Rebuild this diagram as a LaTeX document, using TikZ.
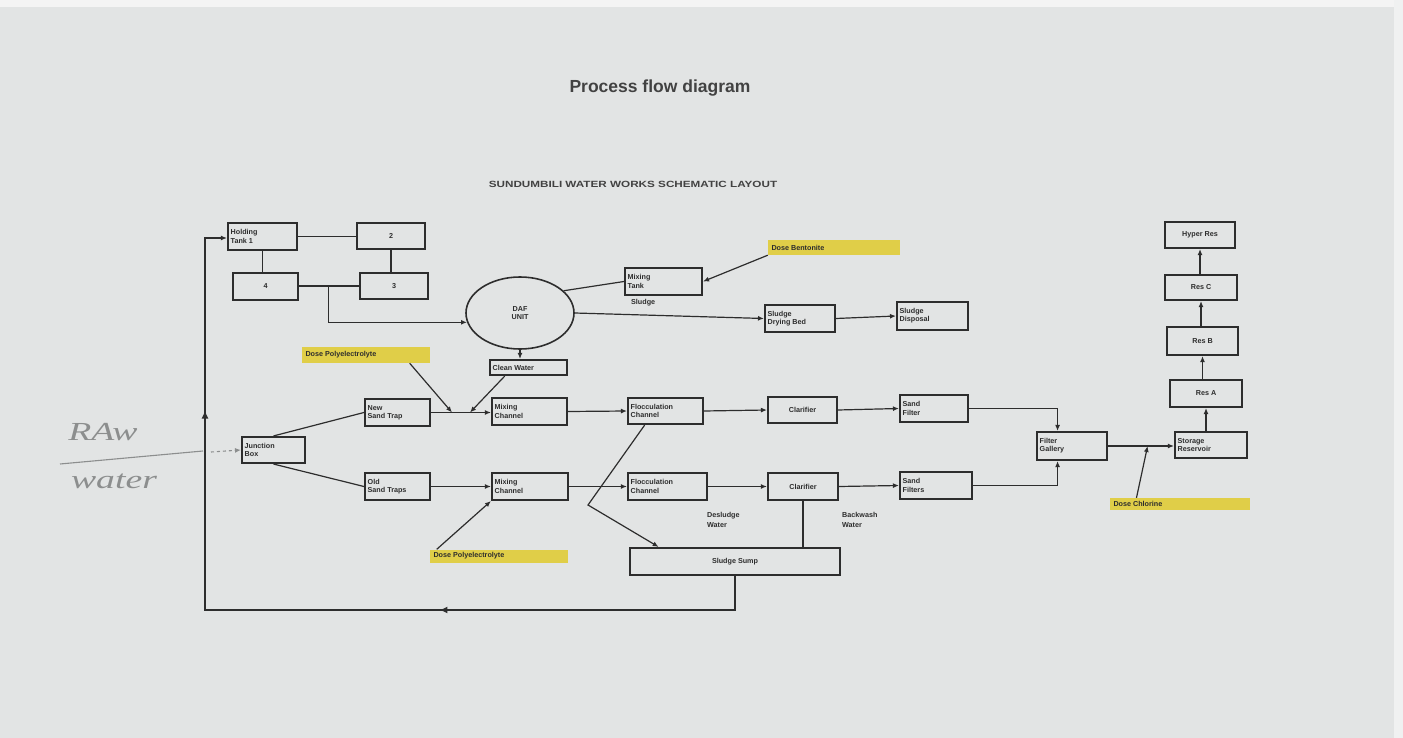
\documentclass[tikz,border=0pt]{standalone}
\usepackage{fontspec}
\setmainfont{Liberation Sans}
\newfontfamily\handfont{Liberation Serif}
\usetikzlibrary{arrows.meta,calc,shapes.geometric,decorations.markings}
\definecolor{paper}{RGB}{226,228,228}
\definecolor{ink}{RGB}{45,45,45}
\definecolor{hilite}{RGB}{224,206,72}
\definecolor{pencil}{RGB}{140,142,142}

\begin{document}
\begin{tikzpicture}[x=1pt,y=-1pt,
  lbl/.style={font=\fontsize{7.2}{8.2}\selectfont\bfseries, text=ink, inner sep=0pt, align=left},
  box/.style={draw=ink, line width=2.1pt, inner sep=0pt, lbl, align=center},
  sz/.style 2 args={minimum width=#1pt, minimum height=#2pt},
  tl/.style={label={[lbl, anchor=west, xshift=3.5pt]west:#1}},
  dose/.style={fill=hilite, draw=none, inner sep=0pt},
  daf/.style={ellipse, draw=ink, line width=1.6pt, minimum width=108pt, minimum height=72pt, inner sep=0pt, lbl, align=center},
  note/.style={lbl},
  wire/.style={draw=ink, line width=1.2pt},
  flow/.style={wire, -{Latex[length=6pt,width=5pt]}},
  hand/.style={font=\handfont\itshape\fontsize{26}{28}\selectfont, text=pencil, xscale=1.45},
  loopmarks/.style={postaction={decorate}, decoration={markings,
    mark=at position 0.344 with {\arrow{Latex[length=8pt,width=7pt]}},
    mark=at position 0.797 with {\arrow{Latex[length=8pt,width=7pt]}}}}
]
% paper
\fill[paper] (0,0) rectangle (1403,738);
\fill[white!60!paper] (0,0) rectangle (1403,7);
\fill[white!50!paper] (1394,0) rectangle (1403,738);
\useasboundingbox (0,0) rectangle (1403,738);

% headings
\node[font=\fontsize{17.5}{20}\selectfont\bfseries, text=ink!90] (title) at (660,88) {Process flow diagram};
\node[font=\fontsize{9}{10}\selectfont\bfseries, text=ink!90, xscale=1.3] (subtitle) at (633,184) {SUNDUMBILI WATER WORKS SCHEMATIC LAYOUT};

% holding tanks
\node[box, sz={69}{27}, tl={Holding\\Tank 1}] (ht1) at (262.5,236.5) {};
\node[box, sz={68}{26}] (b2) at (391,236) {2};
\node[box, sz={65}{27}] (b4) at (265.5,286.5) {4};
\node[box, sz={68}{26}] (b3) at (394,286) {3};

% DAF and sludge line
\node[daf] (daf) at (520,313) {DAF\\UNIT};
\node[box, sz={77}{27}, tl={Mixing\\Tank}] (mixt) at (663.5,281.5) {};
\node[note, anchor=north west] (sludgelbl) at ($(mixt.south west)+(7,3)$) {Sludge};
\node[dose, sz={132}{15}, tl={Dose Bentonite}] (bent) at (834,247.5) {};
\node[box, sz={70}{27}, tl={Sludge\\Drying Bed}] (dry) at (800,318.5) {};
\node[box, sz={71}{28}, tl={Sludge\\Disposal}] (disp) at (932.5,316) {};
\node[box, sz={77}{15}, tl={Clean Water}] (clean) at (528.5,367.5) {};
\node[dose, sz={128}{16}, tl={Dose Polyelectrolyte}] (polyA) at (366,355) {};

% upper treatment train
\node[box, sz={65}{27}, tl={New\\Sand Trap}] (newst) at (397.5,412.5) {};
\node[box, sz={75}{27}, tl={Mixing\\Channel}] (mixA) at (529.5,411.5) {};
\node[box, sz={75}{26}, tl={Flocculation\\Channel}] (flocA) at (665.5,411) {};
\node[box, sz={69}{26}] (clarA) at (802.5,410) {Clarifier};
\node[box, sz={68}{27}, tl={Sand\\Filter}] (sandA) at (934,408.5) {};
\node[box, sz={70}{28}, tl={Filter\\Gallery}] (gal) at (1072,446) {};

% lower treatment train
\node[box, sz={63}{26}, tl={Junction\\Box}] (jb) at (273.5,450) {};
\node[box, sz={65}{27}, tl={Old\\Sand Traps}] (oldst) at (397.5,486.5) {};
\node[box, sz={76}{27}, tl={Mixing\\Channel}] (mixB) at (530,486.5) {};
\node[box, sz={79}{27}, tl={Flocculation\\Channel}] (flocB) at (667.5,486.5) {};
\node[box, sz={70}{27}] (clarB) at (803,486.5) {Clarifier};
\node[box, sz={72}{27}, tl={Sand\\Filters}] (sandB) at (936,485.5) {};
\node[dose, sz={138}{13}, tl={Dose Polyelectrolyte}] (polyB) at (499,556) {};
\node[box, sz={210}{27}] (sump) at (735,561.5) {Sludge Sump};
\node[note, anchor=north west] (desl) at (707,512) {Desludge\\[2pt]Water};
\node[note, anchor=north west] (bw) at (842,512) {Backwash\\[2pt]Water};

% storage and reservoirs
\node[box, sz={72}{26}, tl={Storage\\Reservoir}] (stor) at (1211,445) {};
\node[box, sz={72}{27}] (resA) at (1206,393.5) {Res A};
\node[box, sz={71}{28}] (resB) at (1202.5,341) {Res B};
\node[box, sz={72}{25}] (resC) at (1201,287.5) {Res C};
\node[box, sz={70}{26}] (hyp) at (1200,235) {Hyper Res};
\node[dose, sz={140}{12}, tl={Dose Chlorine}] (chl) at (1180,504) {};

% raw water inlet (pencil)
\node[hand] (raw) at (103,432) {RAw};
\node[hand] (wat) at (114,481) {water};
\coordinate (rw0) at (60,464);
\coordinate (rw1) at (203,451);
\coordinate (rw2) at (211,452);
\draw[pencil, line width=1.1pt] (rw0) -- (rw1);
\draw[pencil, line width=1.1pt, dashed, -{Latex[length=6pt,width=5pt]}] (rw2) -- (jb.west);

% holding tank links
\draw[wire] (ht1.east) -- (ht1.east -| b2.west);
\draw[wire] (ht1.south) -- (ht1.south |- b4.north);
\draw[wire] (b2.south) -- (b2.south |- b3.north);
\draw[wire] (b3.west -| b4.east) -- (b3.west);
\coordinate (j1) at ($(b3.west -| b4.east)!0.49!(b3.west)$);
\draw[flow] (j1) |- (daf.190);

% DAF connections
\draw[wire] (daf.27) -- (mixt.west);
\draw[flow] (bent.south west) -- (mixt.east);
\draw[flow] (daf.east) -- (dry.west);
\draw[flow] (dry.east) -- (disp.west);
\draw[flow] (daf.south) -- (daf.south |- clean.north);

% upper train
\draw[wire] (jb.north) -- (newst.west);
\draw[flow] (newst.east) -- (newst.east -| mixA.west);
\coordinate (t1) at ($(newst.east)!0.35!(newst.east -| mixA.west)$);
\coordinate (t2) at ($(newst.east)!0.65!(newst.east -| mixA.west)$);
\draw[flow] ($(polyA.south west)!0.84!(polyA.south east)$) -- (t1);
\draw[flow] ($(clean.south west)!0.2!(clean.south east)$) -- (t2);
\draw[flow] (mixA.east) -- (flocA.west);
\draw[flow] (flocA.east) -- (clarA.west);
\draw[flow] (clarA.east) -- (sandA.west);
\coordinate (gt) at ($(gal.north west)!0.3!(gal.north east)$);
\coordinate (gb) at ($(gal.south west)!0.3!(gal.south east)$);
\draw[flow] (sandA.east) -| (gt);

% lower train
\draw[wire] (jb.south) -- (oldst.west);
\draw[flow] (oldst.east) -- (mixB.west);
\draw[flow] ($(polyB.north west)!0.05!(polyB.north east)$) -- (mixB.south west);
\draw[flow] (mixB.east) -- (flocB.west);
\draw[flow] (flocB.east) -- (clarB.west);
\draw[flow] (clarB.east) -- (sandB.west);
\draw[flow] (sandB.east) -| (gb);

% sludge returns
\coordinate (fk) at (588,505);
\draw[flow] ($(flocA.south west)!0.23!(flocA.south east)$) -- (fk) -- ($(sump.north west)!0.14!(sump.north east)$);
\draw[wire] (clarB.south) -- (clarB.south |- sump.north);
\coordinate (lb) at (735,610);
\coordinate (ll) at (205,610);
\coordinate (lt) at (205,238);
\draw[flow, line width=1.5pt, loopmarks] (sump.south) -- (lb) -- (ll) -- (lt) -- (lt -| ht1.west);

% final water
\draw[flow] (gal.east) -- (gal.east -| stor.west);
\coordinate (cj) at ($(gal.east)!0.6!(gal.east -| stor.west)$);
\draw[flow] ($(chl.north west)!0.19!(chl.north east)$) -- (cj);
\draw[flow] (resA.south |- stor.north) -- (resA.south);
\draw[flow] (resB.south |- resA.north) -- (resB.south);
\draw[flow] (resC.south |- resB.north) -- (resC.south);
\draw[flow] (hyp.south |- resC.north) -- (hyp.south);
\end{tikzpicture}
\end{document}
